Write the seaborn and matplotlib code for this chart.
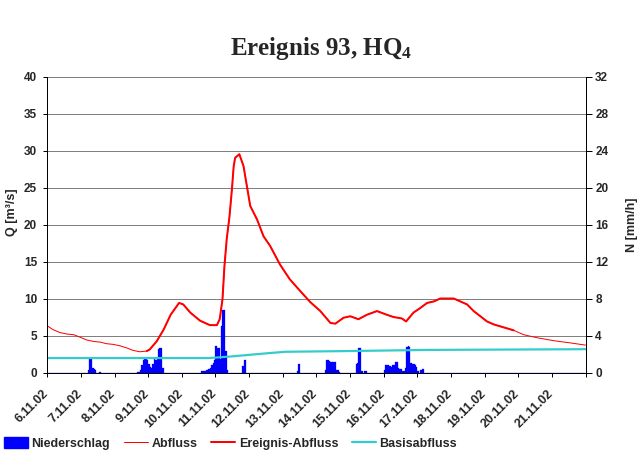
import numpy as np
import pandas as pd
import matplotlib
matplotlib.use("Agg")
import matplotlib.pyplot as plt
import matplotlib.transforms as mtransforms
from matplotlib.lines import Line2D
from matplotlib.patches import Patch
import seaborn as sns

# ---------------- data ----------------
date_labels = ["6.11.02", "7.11.02", "8.11.02", "9.11.02", "10.11.02", "11.11.02",
               "12.11.02", "13.11.02", "14.11.02", "15.11.02", "16.11.02", "17.11.02",
               "18.11.02", "19.11.02", "20.11.02", "21.11.02"]

# hours since 6.11.02 00:00
abfluss_hours = [0, 4, 9, 14, 19, 23, 28, 33, 38, 42, 47, 52, 57, 61, 66, 71, 73,
                 78, 83, 88, 94, 97, 102, 109, 116, 121, 123, 125, 126.4, 128, 130,
                 131.7, 133, 134, 137, 140, 142.4, 144.8, 149.6, 154.3, 159, 166,
                 173, 180.5, 187.7, 194.8, 202, 205.5, 211.4, 216.2, 222, 228, 235.2,
                 242.3, 247, 253, 256, 261.3, 266, 271, 275.7, 280.4, 285.2, 290,
                 294.7, 299.5, 304.2, 309, 313.7, 318.5, 325.6, 332.7, 340, 349.4,
                 361.3, 373.2, 384]
abfluss_q = [6.3, 5.8, 5.4, 5.2, 5.1, 4.8, 4.4, 4.2, 4.1, 3.9, 3.8, 3.6, 3.3, 3.0, 2.8,
             2.9, 3.1, 4.2, 5.8, 7.8, 9.4, 9.2, 8.1, 7.0, 6.4, 6.4, 7.2, 9.9, 14.4, 18.0,
             21.1, 24.7, 27.9, 29.0, 29.5, 27.9, 25.2, 22.5, 20.7, 18.4, 17.1, 14.6,
             12.6, 11.0, 9.5, 8.3, 6.7, 6.6, 7.4, 7.6, 7.2, 7.8, 8.3, 7.8, 7.5, 7.3,
             6.9, 8.1, 8.7, 9.4, 9.6, 10.0, 10.0, 10.0, 9.6, 9.2, 8.3, 7.6, 6.9, 6.5,
             6.1, 5.7, 5.1, 4.7, 4.3, 4.0, 3.7]
ereignis_start = 70
ereignis_end = 338

basis_hours = [0, 115, 130, 145, 160, 170, 216, 271, 384]
basis_q = [1.95, 1.95, 2.15, 2.4, 2.65, 2.8, 2.9, 3.05, 3.15]

precip_hours = [29, 30, 31, 32, 33, 34, 37,
                64, 65, 66, 67, 68, 69, 70, 71, 72, 73, 74, 75, 76, 77, 78, 79, 80, 81, 82,
                110, 111, 112, 113, 114, 115, 116, 117, 118, 119, 120, 121, 122, 123, 124,
                125, 126, 127, 128,
                139, 140, 141,
                178, 179,
                198, 199, 200, 201, 202, 203, 204, 205, 206, 207, 208,
                220, 221, 222, 223, 224, 226, 227,
                240, 241, 242, 243, 244, 245, 246, 247, 248, 249, 250, 251, 252, 253, 254,
                255, 256, 257, 258, 259, 260, 261, 262, 263, 264, 266, 267, 268]
precip_mm = [0.3, 1.5, 1.5, 0.5, 0.4, 0.3, 0.1,
             0.1, 0.1, 0.3, 0.8, 1.3, 1.45, 1.45, 1.3, 0.9, 0.55, 0.5, 0.9, 1.5, 1.4, 1.6,
             2.5, 2.6, 2.6, 0.5,
             0.2, 0.2, 0.2, 0.25, 0.3, 0.35, 0.5, 0.8, 1.0, 1.4, 2.9, 2.7, 2.7, 1.5, 5.0,
             6.8, 6.8, 2.3, 0.3,
             0.7, 1.3, 1.3,
             0.2, 0.9,
             0.3, 1.3, 1.3, 1.25, 1.15, 1.1, 1.1, 1.1, 0.3, 0.3, 0.1,
             0.9, 1.0, 2.6, 2.6, 0.2, 0.15, 0.15,
             0.3, 0.8, 0.8, 0.8, 0.7, 0.6, 0.8, 0.8, 1.1, 1.1, 0.5, 0.4, 0.35, 0.2, 0.2,
             0.5, 2.8, 2.9, 2.8, 1.0, 0.9, 0.9, 0.8, 0.6, 0.2, 0.3, 0.4, 0.4]

q_ticks = [0, 5, 10, 15, 20, 25, 30, 35, 40]
n_ticks = [0, 4, 8, 12, 16, 20, 24, 28, 32]

# ---------------- style ----------------
sns.set_theme(style="white")
plt.rcParams['font.family'] = ['Liberation Sans', 'DejaVu Sans']
plt.rcParams['font.weight'] = 'bold'
plt.rcParams['mathtext.fontset'] = 'custom'
plt.rcParams['mathtext.rm'] = 'Liberation Serif:bold'
plt.rcParams['mathtext.it'] = 'Liberation Serif:bold'
plt.rcParams['mathtext.bf'] = 'Liberation Serif:bold'
plt.rcParams['mathtext.default'] = 'rm'

BLUE = '#0000FF'
RED = '#FF0000'
CYAN = '#33CCCC'
GRID = '#808080'
PX = 0.72  # points per pixel at 100 dpi

fig = plt.figure(figsize=(6.43, 4.67), dpi=100)
fig.patch.set_facecolor('white')
L, R, B, T = 47.3, 585.5, 372.5, 76.5
ax = fig.add_axes([L / 643, 1 - B / 467, (R - L) / 643, (B - T) / 467])
ax2 = ax.twinx()
ax.set_zorder(2)
ax2.set_zorder(1)
ax.patch.set_visible(False)
ax2.patch.set_facecolor('white')

# precipitation bars (secondary axis)
df_p = pd.DataFrame({'hour': np.array(precip_hours, dtype=float) + 0.5,
                     'mm': np.array(precip_mm, dtype=float)})
sns.histplot(data=df_p, x='hour', weights='mm', binwidth=1, binrange=(0, 384),
             color=BLUE, alpha=1, edgecolor=BLUE, linewidth=0.2, ax=ax2)

# discharge lines
df_q = pd.DataFrame({'hour': abfluss_hours, 'q': abfluss_q})
df_e = df_q[(df_q['hour'] >= ereignis_start) & (df_q['hour'] <= ereignis_end)]
df_b = pd.DataFrame({'hour': basis_hours, 'q': basis_q})
sns.lineplot(data=df_b, x='hour', y='q', color=CYAN, linewidth=2.2 * PX, ax=ax)
sns.lineplot(data=df_q, x='hour', y='q', color=RED, linewidth=1.0 * PX, ax=ax)
sns.lineplot(data=df_e, x='hour', y='q', color=RED, linewidth=2.0 * PX, ax=ax)

# axes
ax.set_xlim(0, 384)
ax.set_ylim(0, 40)
ax2.set_ylim(0, 32)
ax2.set_xlim(0, 384)
ax.set_yticks(q_ticks)
ax.set_yticklabels([str(v) for v in q_ticks])
ax2.set_yticks(n_ticks)
ax2.set_yticklabels([str(v) for v in n_ticks])
ax.set_xticks(list(range(0, 385, 24)))
ax.set_xticklabels(date_labels + [''])
ax.set_xlabel('')
ax.set_ylabel('')
ax2.set_xlabel('')
ax2.set_ylabel('')

ax2.grid(axis='y', color=GRID, linewidth=1.0 * PX)
ax2.grid(axis='x', visible=False)
ax.grid(False)
ax2.set_axisbelow(True)

for a in (ax, ax2):
    for s in a.spines.values():
        s.set_color('black')
        s.set_linewidth(1.0 * PX)
    a.spines['top'].set_visible(False)
ax.spines['right'].set_visible(False)
ax2.spines['left'].set_visible(False)
ax2.spines['bottom'].set_visible(False)

ax.tick_params(axis='x', direction='out', length=4 * PX, width=1 * PX, color='black',
               pad=8.0, labelsize=9, bottom=True)
ax.tick_params(axis='y', direction='out', length=4.5 * PX, width=1 * PX, color='black',
               pad=4, labelsize=8.5, left=True)
ax2.tick_params(axis='y', direction='out', length=5.5 * PX, width=1 * PX, color='black',
                pad=3, labelsize=8.5, right=True)

offset = mtransforms.ScaledTranslation(-5 / 100, 0, fig.dpi_scale_trans)
for lbl in ax.get_xticklabels():
    lbl.set_rotation(45)
    lbl.set_ha('right')
    lbl.set_va('top')
    lbl.set_rotation_mode('anchor')
    lbl.set_fontweight('bold')
    lbl.set_transform(lbl.get_transform() + offset)
for lbl in ax.get_yticklabels() + ax2.get_yticklabels():
    lbl.set_fontweight('bold')

# axis titles
fig.text(11.7 / 643, 1 - 212.5 / 467, 'Q [m³/s]', rotation=90, ha='center', va='center',
         fontsize=9, fontweight='bold')
fig.text(632 / 643, 1 - 224.5 / 467, 'N [mm/h]', rotation=90, ha='center', va='center',
         fontsize=9, fontweight='bold')

# title
fig.text(0.5, 1 - 48 / 467, 'Ereignis 93, HQ$_4$', ha='center', va='center',
         fontsize=18, fontweight='bold', family='Liberation Serif')

# legend
handles = [Patch(facecolor=BLUE, edgecolor=BLUE),
           Line2D([], [], color=RED, linewidth=1.0 * PX),
           Line2D([], [], color=RED, linewidth=2.0 * PX),
           Line2D([], [], color=CYAN, linewidth=2.2 * PX)]
labels = ['Niederschlag', 'Abfluss', 'Ereignis-Abfluss', 'Basisabfluss']
fig.legend(handles, labels, loc='center left', bbox_to_anchor=(4 / 643, 1 - 443.5 / 467),
           ncol=4, frameon=False, prop={'size': 9, 'weight': 'bold'},
           handlelength=1.9, handleheight=0.9, handletextpad=0.3, columnspacing=1.1,
           borderpad=0, borderaxespad=0)

fig.savefig('out.png', dpi=100, facecolor='white')
